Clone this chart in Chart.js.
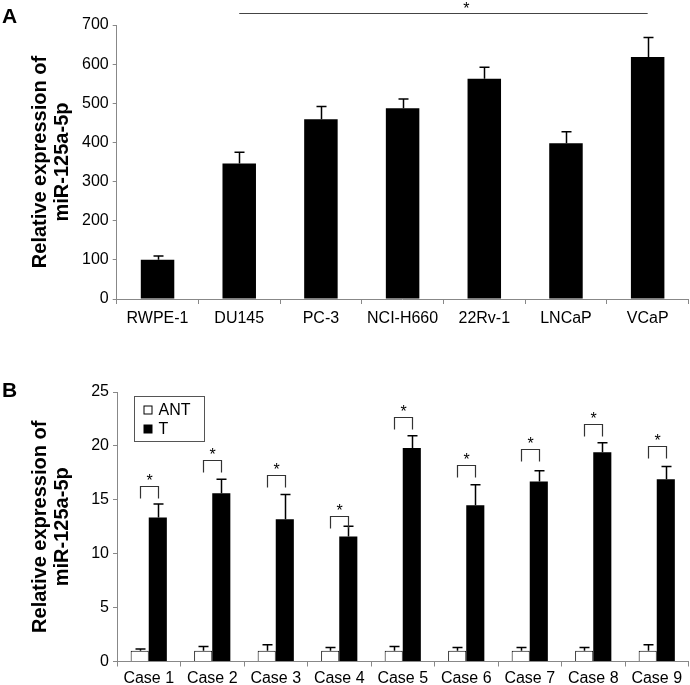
<!DOCTYPE html>
<html>
<head>
<meta charset="utf-8">
<script src="https://cdn.jsdelivr.net/npm/chart.js@4"></script>
<style>
body { margin: 0; background: #fff; }
#chartA { position: absolute; left: 0; top: 0; }
#chartB { position: absolute; left: 0; top: 370px; }
</style>
</head>
<body>
<canvas id="chartA" width="690" height="340"></canvas>
<canvas id="chartB" width="690" height="315"></canvas>
<script>
// Panel A - cell lines
const cellLines = ['RWPE-1', 'DU145', 'PC-3', 'NCI-H660', '22Rv-1', 'LNCaP', 'VCaP'];
const cellValues = [100, 346, 459, 487, 563, 398, 618];
const cellErrors = [10, 29, 33, 24, 29, 29, 50];
const ticksA = [0, 100, 200, 300, 400, 500, 600, 700];
// significance line from DU145 to VCaP
const sigFrom = 1;
const sigTo = 6;
const sigLevel = 730;
const sigStarAt = 3.78;

// Panel B - paired tissues
const cases = ['Case 1', 'Case 2', 'Case 3', 'Case 4', 'Case 5', 'Case 6', 'Case 7', 'Case 8', 'Case 9'];
const antValues = [1, 1, 1, 1, 1, 1, 1, 1, 1];
const antErrors = [0.15, 0.4, 0.55, 0.3, 0.4, 0.3, 0.3, 0.3, 0.55];
const tValues = [13.35, 15.6, 13.2, 11.6, 19.8, 14.5, 16.7, 19.4, 16.9];
const tErrors = [1.25, 1.3, 2.3, 0.95, 1.15, 1.9, 1.0, 0.9, 1.2];
const bracketLevels = [16.3, 18.7, 17.3, 13.5, 22.7, 18.2, 19.7, 22.0, 20.0];
const ticksB = [0, 5, 10, 15, 20, 25];

const FONT = "'Liberation Sans', Arial, sans-serif";
Chart.defaults.font.family = FONT;
Chart.defaults.color = '#000';

const yTitle = ['Relative expression of', 'miR-125a-5p'];

// Draw upward error bars for datasets that carry an errors array
const errorBars = {
    id: 'errorBars',
    afterDatasetsDraw(chart) {
        const ctx = chart.ctx;
        const yScale = chart.scales.y;
        chart.data.datasets.forEach((ds, i) => {
            if (!ds.errors) return;
            const meta = chart.getDatasetMeta(i);
            meta.data.forEach((bar, j) => {
                const top = yScale.getPixelForValue(ds.data[j] + ds.errors[j]);
                const x = Math.round(bar.x) + 0.5;
                ctx.save();
                ctx.strokeStyle = '#000';
                ctx.lineWidth = 1.5;
                ctx.beginPath();
                ctx.moveTo(x, bar.y);
                ctx.lineTo(x, top);
                ctx.moveTo(x - 5, top);
                ctx.lineTo(x + 5, top);
                ctx.stroke();
                ctx.restore();
            });
        });
    }
};

// Panel letter in the top-left corner
function panelLetter(letter, baseline) {
    return {
        id: 'panelLetter',
        afterDraw(chart) {
            const ctx = chart.ctx;
            ctx.save();
            ctx.font = 'bold 21px ' + FONT;
            ctx.fillStyle = '#000';
            ctx.textBaseline = 'alphabetic';
            ctx.fillText(letter, 2, baseline);
            ctx.restore();
        }
    };
}

// Horizontal significance line with star (panel A)
const sigLine = {
    id: 'sigLine',
    afterDraw(chart) {
        const ctx = chart.ctx;
        const x = chart.scales.x;
        const y = Math.round(chart.scales.y.getPixelForValue(sigLevel)) + 0.5;
        ctx.save();
        ctx.strokeStyle = '#444';
        ctx.lineWidth = 1.2;
        ctx.beginPath();
        ctx.moveTo(x.getPixelForValue(sigFrom), y);
        ctx.lineTo(x.getPixelForValue(sigTo), y);
        ctx.stroke();
        ctx.font = '16px ' + FONT;
        ctx.fillStyle = '#000';
        ctx.textAlign = 'center';
        ctx.textBaseline = 'alphabetic';
        ctx.fillText('*', x.getPixelForValue(sigStarAt), y);
        ctx.restore();
    }
};

// Brackets with stars over each ANT/T pair (panel B)
const brackets = {
    id: 'brackets',
    afterDatasetsDraw(chart) {
        const ctx = chart.ctx;
        const yScale = chart.scales.y;
        const ant = chart.getDatasetMeta(0).data;
        const t = chart.getDatasetMeta(1).data;
        ctx.save();
        ctx.strokeStyle = '#333';
        ctx.lineWidth = 1.2;
        ctx.font = '16px ' + FONT;
        ctx.fillStyle = '#000';
        ctx.textAlign = 'center';
        ctx.textBaseline = 'alphabetic';
        bracketLevels.forEach((lvl, j) => {
            const y = Math.round(yScale.getPixelForValue(lvl)) + 0.5;
            const x1 = Math.round(ant[j].x) + 0.5;
            const x2 = Math.round(t[j].x) + 0.5;
            ctx.beginPath();
            ctx.moveTo(x1, y + 12);
            ctx.lineTo(x1, y);
            ctx.lineTo(x2, y);
            ctx.lineTo(x2, y + 12);
            ctx.stroke();
            ctx.fillText('*', (x1 + x2) / 2, y - 1);
        });
        ctx.restore();
    }
};

// Boxed legend in the upper left of panel B
const boxLegend = {
    id: 'boxLegend',
    afterDraw(chart) {
        const ctx = chart.ctx;
        const area = chart.chartArea;
        const left = area.left + 16.5;
        const top = area.top + 4;
        ctx.save();
        ctx.strokeStyle = '#555';
        ctx.lineWidth = 1;
        ctx.strokeRect(Math.round(left) + 0.5, Math.round(top) + 0.5, 70, 45);
        ctx.font = '16px ' + FONT;
        ctx.textBaseline = 'middle';
        chart.data.datasets.forEach((ds, i) => {
            const cy = top + 14 + i * 19;
            ctx.fillStyle = ds.backgroundColor;
            ctx.fillRect(left + 10.5, cy - 4, 8, 8);
            ctx.strokeStyle = '#000';
            ctx.strokeRect(left + 10.5, cy - 4, 8, 8);
            ctx.fillStyle = '#000';
            ctx.fillText(ds.label, left + 25, cy + 1);
        });
        ctx.restore();
    }
};

function axisOptions(ticks, tickPad, xHeight, yWidth) {
    return {
        x: {
            grid: { drawOnChartArea: false, color: '#888', tickLength: 5 },
            border: { color: '#888' },
            ticks: { color: '#000', font: { size: 16 }, padding: tickPad, maxRotation: 0, autoSkip: false },
            afterFit: s => { s.height = xHeight; }
        },
        y: {
            min: ticks[0],
            max: ticks[ticks.length - 1],
            afterBuildTicks: s => { s.ticks = ticks.map(v => ({ value: v })); },
            grid: { drawOnChartArea: false, color: '#888', tickLength: 4 },
            border: { color: '#888' },
            ticks: { color: '#000', font: { size: 16 }, padding: 4 },
            title: {
                display: true,
                text: yTitle,
                color: '#000',
                font: { size: 20, weight: 'bold', lineHeight: 1.1 },
                padding: { top: 29, bottom: 0 }
            },
            afterFit: s => { s.width = yWidth; }
        }
    };
}

new Chart(document.getElementById('chartA'), {
    type: 'bar',
    data: {
        labels: cellLines,
        datasets: [{
            label: 'miR-125a-5p',
            data: cellValues,
            errors: cellErrors,
            backgroundColor: '#000',
            barPercentage: 1,
            categoryPercentage: 0.41
        }]
    },
    options: {
        responsive: false,
        animation: false,
        devicePixelRatio: 1,
        layout: { padding: { top: 25, right: 1.5, left: 0, bottom: 0 } },
        plugins: { legend: { display: false }, tooltip: { enabled: false } },
        scales: axisOptions(ticksA, 5, 41, 116.7)
    },
    plugins: [errorBars, sigLine, panelLetter('A', 23)]
});

new Chart(document.getElementById('chartB'), {
    type: 'bar',
    data: {
        labels: cases,
        datasets: [
            {
                label: 'ANT',
                data: antValues,
                errors: antErrors,
                backgroundColor: '#fff',
                borderColor: '#000',
                borderWidth: 1,
                barPercentage: 1,
                categoryPercentage: 0.57
            },
            {
                label: 'T',
                data: tValues,
                errors: tErrors,
                backgroundColor: '#000',
                barPercentage: 1,
                categoryPercentage: 0.57
            }
        ]
    },
    options: {
        responsive: false,
        animation: false,
        devicePixelRatio: 1,
        layout: { padding: { top: 22, right: 1.5, left: 0, bottom: 0 } },
        plugins: { legend: { display: false }, tooltip: { enabled: false } },
        scales: axisOptions(ticksB, 2, 23.5, 117)
    },
    plugins: [errorBars, brackets, boxLegend, panelLetter('B', 26.7)]
});
</script>
</body>
</html>
